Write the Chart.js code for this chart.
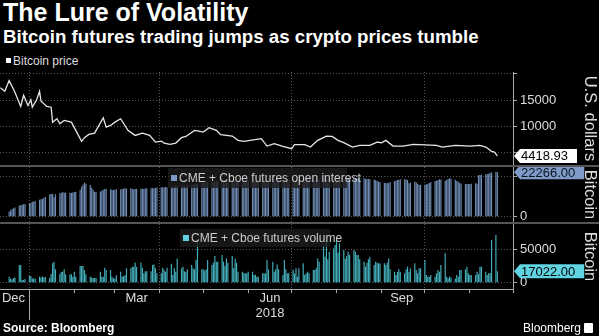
<!DOCTYPE html>
<html>
<head>
<meta charset="utf-8">
<script src="https://cdn.jsdelivr.net/npm/chart.js@4.4.0/dist/chart.umd.min.js"></script>
<style>
  html, body { margin: 0; padding: 0; background: #000; }
  body { width: 599px; height: 336px; position: relative; overflow: hidden;
         font-family: "Liberation Sans", Arial, sans-serif; color: #fff; }
  #title { position: absolute; left: 3px; top: 0px; font-weight: bold; font-size: 25px; line-height: 25px; white-space: nowrap; }
  #sub { position: absolute; left: 3px; top: 27px; font-weight: bold; font-size: 18.7px; line-height: 19px; white-space: nowrap; }
  #leg1 { position: absolute; left: 6px; top: 54px; font-size: 12px; line-height: 14px; color: #ddd; }
  #leg1 i { display: inline-block; width: 5px; height: 5px; background: #fff; margin-right: 2px; vertical-align: 2px; }
  canvas { position: absolute; left: 0; }
  .sep { position: absolute; left: 0; width: 599px; height: 2px; background: #555; }
  #src { position: absolute; left: 3px; top: 321px; font-weight: bold; font-size: 12px; line-height: 14px; }
  #brand { position: absolute; left: 523px; top: 321px; font-size: 12px; line-height: 14px; }
  #brand i { display: inline-block; width: 9px; height: 10px; background: #fff; margin-left: 3px; vertical-align: -1px; border-radius: 1px; }
</style>
</head>
<body>
<div id="title">The Lure of Volatility</div>
<div id="sub">Bitcoin futures trading jumps as crypto prices tumble</div>
<div id="leg1"><i></i>Bitcoin price</div>
<canvas id="c1" width="599" height="93" style="top:72px"></canvas>
<div class="sep" style="top:165px"></div>
<canvas id="c2" width="599" height="55" style="top:167px"></canvas>
<div class="sep" style="top:222px"></div>
<canvas id="c3" width="599" height="100" style="top:224px"></canvas>
<div id="src">Source: Bloomberg</div>
<div id="brand">Bloomberg<i></i></div>
<script>
// --- Daten ---
var priceDates = ['2017-12-12','2017-12-15','2017-12-18','2017-12-22','2017-12-26','2017-12-28','2017-12-31',
  '2018-01-02','2018-01-03','2018-01-06','2018-01-08','2018-01-09','2018-01-13','2018-01-16','2018-01-17','2018-01-20',
  '2018-01-22','2018-01-25','2018-01-30','2018-02-02','2018-02-06','2018-02-08','2018-02-11','2018-02-15','2018-02-18',
  '2018-02-21','2018-02-23','2018-02-26','2018-03-01','2018-03-05','2018-03-10','2018-03-15','2018-03-20','2018-03-25',
  '2018-03-29','2018-04-02','2018-04-04','2018-04-08','2018-04-12','2018-04-16','2018-04-19','2018-04-25','2018-04-28',
  '2018-05-01','2018-05-05','2018-05-10','2018-05-13','2018-05-21','2018-05-25','2018-05-29','2018-06-10','2018-06-14',
  '2018-06-19','2018-06-25','2018-07-01','2018-07-03','2018-07-10','2018-07-14','2018-07-19','2018-07-25','2018-07-29',
  '2018-08-02','2018-08-06','2018-08-12','2018-08-17','2018-08-24','2018-08-29','2018-09-01','2018-09-04','2018-09-09',
  '2018-09-16','2018-09-23','2018-09-27','2018-10-09','2018-10-13','2018-10-22','2018-11-01','2018-11-08','2018-11-12',
  '2018-11-16','2018-11-18','2018-11-20'];
var priceValues = [17300,16660,18680,16470,13770,15900,13960,15040,13640,15040,16660,14770,13770,13640,10810,11450,
  10510,11130,10810,9250,7170,7870,8490,8740,10190,11640,9870,10190,10810,11450,9250,8300,8740,8300,7040,7230,6850,
  6600,6850,7870,8110,9250,9110,8930,9750,9250,8430,8170,7360,7170,7680,6280,6740,6230,5790,6550,6550,6090,7360,8170,
  8110,7360,6920,6090,6410,6410,7040,6920,7360,6280,6280,6600,6550,6410,6090,6410,6280,6410,6090,5280,5150,4418.93];

// Handelstage ab Mo 18.12.2017, je Zeile eine Woche
var barStart = '2017-12-18';
var openInterest = [
  2500,3200,3700,4200,4600,       // Dec 18
  5500,5800,6000,6200,6400,       // Dec 25
  6700,7000,7300,7600,7850,       // Jan 1
  8500,8700,9000,9400,9800,       // Jan 8
  11200,11400,11500,9700,11200,   // Jan 15
  11700,12000,12200,12100,12000,  // Jan 22
  12000,11900,12100,12300,12500,  // Jan 29
  13500,15000,16000,17000,16500,  // Feb 5
  15800,14500,13300,12500,12200,  // Feb 12
  12600,13000,13500,13900,14000,  // Feb 19
  13800,13400,13300,13500,13700,  // Feb 26
  13700,13900,14100,14200,14000,  // Mar 5
  14200,13900,13700,13800,13900,  // Mar 12
  14000,14000,13900,14100,14200,  // Mar 19
  14200,14300,14200,14400,14600,  // Mar 26
  14700,14600,14700,14800,14600,  // Apr 2
  14800,15000,15100,15200,15300,  // Apr 9
  15300,15400,15350,15500,15600,  // Apr 16
  15800,16000,16200,16300,16500,  // Apr 23
  16700,16800,17000,17100,17200,  // Apr 30
  17300,17500,17600,17800,18000,  // May 7
  18000,18100,18200,18000,17900,  // May 14
  17800,17700,17900,18000,18100,  // May 21
  18200,18300,18400,18200,18000,  // May 28
  17800,17600,17500,17700,17900,  // Jun 4
  18000,18200,18300,18500,18400,  // Jun 11
  18300,18100,17900,18000,18200,  // Jun 18
  18400,18500,18600,18400,18300,  // Jun 25
  18200,18100,18300,18500,18700,  // Jul 2
  18800,18900,19000,18800,18600,  // Jul 9
  18500,18400,18300,18500,18700,  // Jul 16
  18900,19000,19200,19100,18900,  // Jul 23
  18700,18500,18400,18300,18350,  // Jul 30
  18350,18400,18500,18800,19000,  // Aug 6
  19200,19300,19200,19100,19200,  // Aug 13
  19200,19000,18900,18800,18700,  // Aug 20
  18500,18200,17800,17500,17300,  // Aug 27
  17000,16800,16700,16900,17400,  // Sep 3
  17800,18000,18300,18500,18700,  // Sep 10
  18700,18600,18300,16700,17000,  // Sep 17
  17500,17200,16500,15900,15850,  // Sep 24
  16000,16200,16350,16800,17300,  // Oct 1
  17800,18000,18300,18700,18600,  // Oct 8
  18000,18300,18800,19200,19000,  // Oct 15
  18500,17800,17500,17000,16500,  // Oct 22
  16350,16300,16400,16350,16500,  // Oct 29
  16700,16500,20800,20900,21000,  // Nov 5
  21200,21300,21500,22000,22100,  // Nov 12
  22500,22266                     // Nov 19
];
var volume = [
  9000,6000,5000,7000,7500,       // Dec 18
  26400,26400,4000,4500,5500,     // Dec 25
  10000,10000,6500,6500,6000,     // Jan 1
  9000,8000,9500,8000,8500,       // Jan 8
  7500,13000,29000,31400,20000,   // Jan 15
  13000,16500,16500,20000,12500,  // Jan 22
  12500,12500,9000,16500,9000,    // Jan 29
  25000,25000,25000,19000,12500,  // Feb 5
  9000,8000,7000,7000,7000,       // Feb 12
  16500,9000,9000,22500,19000,    // Feb 19
  19000,9000,6500,6500,11000,     // Feb 26
  16500,9000,10000,11000,21500,   // Mar 5
  21500,24000,24000,30400,24000,  // Mar 12
  30400,22500,14000,17000,17000,  // Mar 19
  17000,26400,27400,21500,14000,  // Mar 26
  14000,22500,19000,16500,22500,  // Apr 2
  28500,11500,21500,16500,36400,  // Apr 9
  21500,24000,17000,16500,20000,  // Apr 16
  26400,21500,20000,34000,62000,  // Apr 23
  20000,20000,18000,20000,34000,  // Apr 30
  26400,30000,40000,31400,31400,  // May 7
  41400,31400,25000,36400,30000,  // May 14
  40000,21500,36400,30000,16500,  // May 21
  16500,14000,14000,14000,16500,  // May 28
  16500,11500,12000,9000,9000,    // Jun 4
  14000,14000,14000,34000,20000,  // Jun 11
  31400,16500,20000,27400,20000,  // Jun 18
  11500,34000,20000,14000,14000,  // Jun 25
  19000,14000,21500,9000,21500,   // Jul 2
  29000,11500,14000,16500,14000,  // Jul 9
  19000,19000,21500,36400,31400,  // Jul 16
  56400,39000,64000,35000,46400,  // Jul 23
  51400,56400,64000,45000,59000,  // Jul 30
  49000,36400,40000,46400,42000,  // Aug 6
  49000,46400,41400,41400,35000,  // Aug 13
  31400,24000,30000,35000,39000,  // Aug 20
  26400,31400,30000,29000,29000,  // Aug 27
  29000,26400,30000,36400,20000,  // Sep 3
  16500,11500,16000,20000,16000,  // Sep 10
  14000,20000,24000,16500,21500,  // Sep 17
  29000,19000,14000,21500,21500,  // Sep 24
  34000,11500,9000,9000,11500,    // Oct 1
  9000,14000,19000,16500,26400,   // Oct 8
  44000,9000,6500,9000,8000,      // Oct 15
  6500,11500,9000,19000,19000,    // Oct 22
  20000,24000,14000,11500,11500,  // Oct 29
  11500,16500,13000,24000,24000,  // Nov 5
  16500,11500,14000,14000,64000,  // Nov 12
  71400,17022                     // Nov 19
];

// Achsen
var priceTicks = [5000, 10000, 15000, 20000];
var oiTicks = [0, 10000, 20000];
var volTicks = [0, 50000];
var gridDates = ['2018-01-01', '2018-04-01', '2018-07-01', '2018-10-01'];
var xLabelText = ['Dec', 'Mar', 'Jun', 'Sep'];
var xLabelDates = ['2017-12-21', '2018-03-16', '2018-06-16', '2018-09-15'];
var yearLabel = '2018', yearLabelDate = '2018-06-16', yearStart = '2018-01-01';

// --- Helfer ---
var GRID = '#575757', AXIS = '#aaa', TXT = '#ddd';
var FONT = '"Liberation Sans", Arial, sans-serif';
var X_MIN = -20.3, X_MAX = 333.8;
Chart.defaults.font.family = FONT;

function dayOf(s) {
  var p = s.split('-');
  return (Date.UTC(+p[0], +p[1] - 1, +p[2]) - Date.UTC(2018, 0, 1)) / 864e5;
}
function tradingDays(start, n) {
  var out = [], d = dayOf(start);
  while (out.length < n) {
    var wd = new Date(Date.UTC(2018, 0, 1) + d * 864e5).getUTCDay();
    if (wd > 0 && wd < 6) out.push(d);
    d++;
  }
  return out;
}
function monthStarts() {
  var out = [];
  for (var m = 0; m < 12; m++) out.push((Date.UTC(2018, m, 1) - Date.UTC(2018, 0, 1)) / 864e5);
  return out;
}
var gridDays = gridDates.map(dayOf);

function fixTicks(vals) {
  return function (s) { s.ticks = vals.map(function (v) { return { value: v }; }); };
}
function noPad(s) { s.paddingTop = 0; s.paddingBottom = 0; s.paddingLeft = 0; s.paddingRight = 0; }

function xAxis(tickDays, height, withLine) {
  return {
    type: 'linear', min: X_MIN, max: X_MAX, offset: false,
    afterBuildTicks: fixTicks(tickDays),
    afterFit: function (s) { s.height = height; noPad(s); },
    ticks: { display: false },
    grid: {
      offset: false, drawTicks: withLine, tickLength: 4, tickColor: AXIS,
      color: function (c) { return c.tick && gridDays.indexOf(c.tick.value) >= 0 ? GRID : 'rgba(0,0,0,0)'; }
    },
    border: { display: withLine, color: AXIS, dash: [1, 2] }
  };
}
function yAxis(min, max, vals, hide, title) {
  return {
    position: 'right', min: min, max: max,
    afterBuildTicks: fixTicks(vals),
    afterFit: function (s) { s.width = 86; noPad(s); },
    ticks: {
      color: TXT, font: { size: 13 }, padding: 3,
      callback: function (v) { return hide.indexOf(v) >= 0 ? '' : String(v); }
    },
    grid: { color: GRID, tickColor: AXIS, tickLength: 4 },
    border: { display: true, color: AXIS, dash: [1, 2] },
    title: { display: true, text: title, color: TXT, font: { size: 16.5 }, padding: { top: 0, bottom: 0 } }
  };
}

// Kasten mit letztem Wert an der rechten Achse
function lastBox(value, bg, fg) {
  return {
    id: 'lastBox',
    afterDraw: function (chart) {
      var ctx = chart.ctx, sy = chart.scales.y;
      var y = sy.getPixelForValue(value), x0 = sy.left + 1;
      var txt = value.toFixed(2);
      ctx.save();
      ctx.font = '13px ' + FONT;
      ctx.textAlign = 'left';
      ctx.textBaseline = 'middle';
      var w = ctx.measureText(txt).width + 10;
      ctx.fillStyle = bg;
      ctx.beginPath();
      ctx.moveTo(x0, y); ctx.lineTo(x0 + 6, y - 7); ctx.lineTo(x0 + 6 + w, y - 7);
      ctx.lineTo(x0 + 6 + w, y + 7); ctx.lineTo(x0 + 6, y + 7); ctx.closePath(); ctx.fill();
      ctx.fillStyle = fg;
      ctx.fillText(txt, x0 + 7, y + 1);
      ctx.restore();
    }
  };
}
// Legende als halbtransparenter Kasten im Panel
function boxLegend(text, color, x, y, w, h) {
  return {
    id: 'boxLegend',
    afterDatasetsDraw: function (chart) {
      var ctx = chart.ctx;
      ctx.save();
      ctx.fillStyle = 'rgba(28,28,28,0.82)';
      ctx.fillRect(x, y, w, h);
      ctx.fillStyle = color;
      ctx.fillRect(x + 3, y + h / 2 - 3, 6, 6);
      ctx.fillStyle = '#ccc'; ctx.font = '12px ' + FONT;
      ctx.textAlign = 'left'; ctx.textBaseline = 'middle';
      ctx.fillText(text, x + 11, y + h / 2 + 1);
      ctx.restore();
    }
  };
}
var xLabels = {
  id: 'xLabels',
  afterDraw: function (chart) {
    var ctx = chart.ctx, sx = chart.scales.x, b = chart.chartArea.bottom;
    ctx.save();
    ctx.fillStyle = TXT; ctx.font = '13px ' + FONT; ctx.textAlign = 'center'; ctx.textBaseline = 'middle';
    xLabelText.forEach(function (t, i) { ctx.fillText(t, sx.getPixelForValue(dayOf(xLabelDates[i])), b + 9); });
    ctx.fillText(yearLabel, sx.getPixelForValue(dayOf(yearLabelDate)), b + 24);
    var xj = Math.round(sx.getPixelForValue(dayOf(yearStart))) + 0.5;
    ctx.strokeStyle = AXIS; ctx.lineWidth = 1;
    ctx.beginPath(); ctx.moveTo(xj, b); ctx.lineTo(xj, b + 31); ctx.stroke();
    ctx.restore();
  }
};

var base = {
  animation: false, responsive: false, layout: { padding: 0 },
  plugins: { legend: { display: false }, tooltip: { enabled: false } }
};
function opts(scales) { return Object.assign({}, base, { scales: scales }); }

// --- Preis ---
new Chart(document.getElementById('c1'), {
  type: 'line',
  data: { datasets: [{
    data: priceDates.map(function (d, i) { return { x: dayOf(d), y: priceValues[i] }; }),
    borderColor: '#e6e6e6', borderWidth: 1.3, pointRadius: 0, tension: 0
  }] },
  options: opts({ x: xAxis(gridDays, 0, false), y: yAxis(2700, 20300, priceTicks, [5000, 20000], 'U.S. dollars') }),
  plugins: [lastBox(priceValues[priceValues.length - 1], '#fff', '#000')]
});

// --- Open Interest ---
var days = tradingDays(barStart, openInterest.length);
new Chart(document.getElementById('c2'), {
  type: 'bar',
  data: { datasets: [{
    data: openInterest.map(function (v, i) { return { x: days[i], y: v }; }),
    backgroundColor: '#6f8cb4', barPercentage: 0.8, categoryPercentage: 1, borderWidth: 0
  }] },
  options: opts({ x: xAxis(gridDays, 0, false), y: yAxis(-2650, 24850, oiTicks, [20000], 'Bitcoin') }),
  plugins: [boxLegend('CME + Cboe futures open interest', '#7b9ac6', 168, 1, 179, 20),
            lastBox(openInterest[openInterest.length - 1], '#7d9bc6', '#0a1424')]
});

// --- Volumen ---
var vdays = tradingDays(barStart, volume.length);
new Chart(document.getElementById('c3'), {
  type: 'bar',
  data: { datasets: [{
    data: volume.map(function (v, i) { return { x: vdays[i], y: v }; }),
    backgroundColor: '#44b0bc', barPercentage: 0.8, categoryPercentage: 1, borderWidth: 0
  }] },
  options: opts({ x: xAxis(monthStarts(), 35, true), y: yAxis(-9400, 87900, volTicks, [], 'Bitcoin') }),
  plugins: [boxLegend('CME + Cboe futures volume', '#5fd0dc', 180, 5, 150, 18), xLabels,
            lastBox(volume[volume.length - 1], '#5fd3e0', '#000')]
});
</script>
</body>
</html>
